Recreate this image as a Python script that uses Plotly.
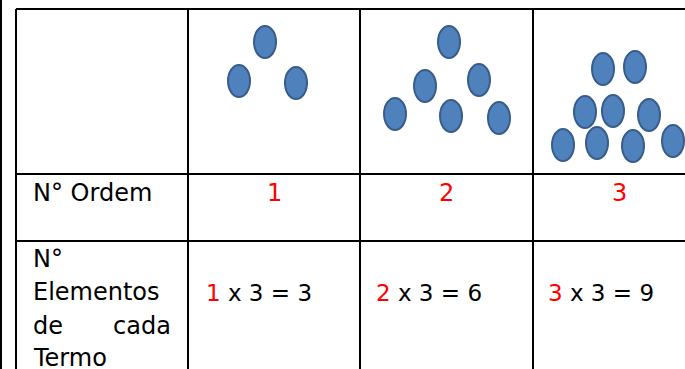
import plotly.graph_objects as go

# Table contents
orders = [1, 2, 3]
factor = 3
row1_label = "N° Ordem"
row2_lines = ["N°", "Elementos", "de", "cada", "Termo"]

# Dot centres (pixels in the picture) for each term
term1_x = [265, 239, 296]
term1_y = [42, 81, 83]
term2_x = [449, 425, 479, 395, 451, 499]
term2_y = [42, 86, 80, 114, 116, 118]
term3_x = [603, 635, 585, 613, 649, 563, 597, 633, 673]
term3_y = [69, 67, 112, 111, 115, 145, 143, 146, 141]

# Table grid
col_edges = [16, 188, 360, 533, 705]
row_edges = [9, 174, 241, 400]

W, H = 685, 369
font_name = "DejaVu Sans"
red = "#FF0000"

shapes = []
# page margin bar at far left
shapes.append(dict(type="line", x0=1, x1=1, y0=0, y1=H, line=dict(color="black", width=2)))
for cx in col_edges:
    shapes.append(dict(type="line", x0=cx, x1=cx, y0=row_edges[0], y1=row_edges[-1],
                       line=dict(color="black", width=2)))
for ry in row_edges:
    shapes.append(dict(type="line", x0=col_edges[0], x1=col_edges[-1], y0=ry, y1=ry,
                       line=dict(color="black", width=2)))

# elliptical dots
rx, ry_ = 11, 16
for xs, ys in [(term1_x, term1_y), (term2_x, term2_y), (term3_x, term3_y)]:
    for x, y in zip(xs, ys):
        shapes.append(dict(type="circle", x0=x - rx, x1=x + rx, y0=y - ry_, y1=y + ry_,
                           fillcolor="#4F81BD", line=dict(color="#385D8A", width=2)))

annotations = []


def txt(x, y, text, color="black", anchor="left", size=24):
    annotations.append(dict(x=x, y=y, text=text, showarrow=False, xanchor=anchor,
                            yanchor="middle", font=dict(family=font_name, size=size, color=color)))


txt(31, 193, row1_label)
txt(31, 259, row2_lines[0])
txt(31, 292, row2_lines[1])
txt(31, 326, row2_lines[2])
txt(173, 326, row2_lines[3], anchor="right")
txt(31, 358, row2_lines[4])

formula_x = [204, 374, 546]
for i, n in enumerate(orders):
    mid = (col_edges[i + 1] + col_edges[i + 2]) / 2
    txt(mid, 193, str(n), color=red, anchor="center")
    txt(formula_x[i], 293,
        f"<span style='color:{red}'>{n}</span> x {factor} = {n * factor}", size=23)

fig = go.Figure()
fig.add_trace(go.Scatter(x=[0], y=[0], mode="markers", marker=dict(opacity=0),
                         hoverinfo="skip", showlegend=False))
fig.update_layout(
    width=W, height=H,
    margin=dict(l=0, r=0, t=0, b=0),
    paper_bgcolor="white", plot_bgcolor="white",
    xaxis=dict(range=[0, W], visible=False, fixedrange=True),
    yaxis=dict(range=[H, 0], visible=False, fixedrange=True),
    shapes=shapes,
    annotations=annotations,
    showlegend=False,
)

# drop the browser's default 8px page margin so the figure sits at the window's corner
fig.write_html("out.html", config={"displayModeBar": False},
               post_script="document.body.style.margin='0';document.body.style.overflow='hidden';")
